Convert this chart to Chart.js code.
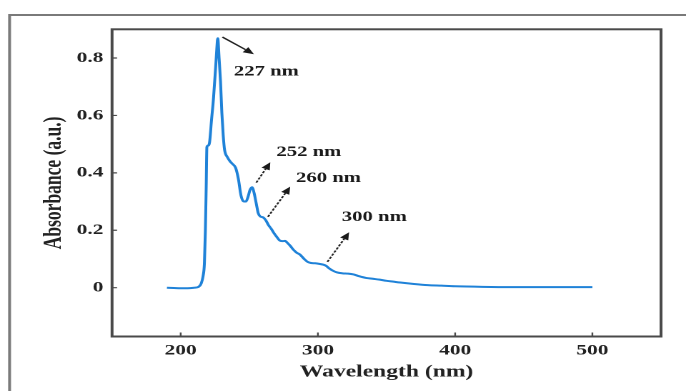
<!DOCTYPE html>
<html><head><meta charset="utf-8">
<script src="https://cdn.jsdelivr.net/npm/chart.js@4.4.1/dist/chart.umd.min.js"></script>
<style>
html,body{margin:0;padding:0;background:#fff;overflow:hidden;}
#wrap{width:480px;height:391px;transform:scaleX(1.42917);transform-origin:0 0;}
</style></head><body>
<div id="wrap"><canvas id="c" width="480" height="391" style="width:480px;height:391px"></canvas></div>
<script>
const wavelengths = [190,195,200,205,210,213,215,216.3,217.3,218,218.6,219.1,220,221,222.5,224,225.5,226.3,227,228,229,230,231,232,234,236,238,240,242,244,246,247.5,249,250.5,252,253.5,255,256.5,258,260,262,264,266,268,270,272,274,276,278,280,282,284.5,287,290,292.5,295,298,301,304,306,308,311,314,318,322,326,330,335,340,345,350,355,360,370,380,390,400,420,440,460,480,500];
const absorbance = [0.000,-0.001,-0.002,-0.002,0.000,0.003,0.015,0.04,0.085,0.2,0.35,0.49,0.495,0.505,0.585,0.665,0.77,0.83,0.869,0.80,0.72,0.61,0.53,0.48,0.455,0.44,0.43,0.418,0.38,0.32,0.30,0.30,0.315,0.34,0.35,0.33,0.295,0.26,0.248,0.245,0.235,0.218,0.205,0.19,0.177,0.165,0.162,0.163,0.155,0.145,0.133,0.122,0.115,0.10,0.09,0.086,0.085,0.083,0.08,0.076,0.068,0.059,0.053,0.05,0.049,0.046,0.04,0.034,0.031,0.028,0.024,0.021,0.018,0.013,0.009,0.007,0.005,0.003,0.002,0.002,0.002,0.002];
const xTicks = [200,300,400,500];
const yTicks = [0,0.2,0.4,0.6,0.8];
const yTickLabels = ['0','0.2','0.4','0.6','0.8'];
const peakLabels = ['227 nm','252 nm','260 nm','300 nm'];
const labelX = [262.4,293.4,307.7,341.1];
const labelY = [0.752,0.472,0.381,0.245];
const arrowFromX = [230.4,255.1,263.6,306.9];
const arrowFromY = [0.873,0.366,0.247,0.09];
const arrowToX = [253.4,265.3,279.8,322.7];
const arrowToY = [0.813,0.437,0.352,0.193];

const points = wavelengths.map((w,i)=>({x:w,y:absorbance[i]}));
const SERIF = "'Liberation Serif','Times New Roman',serif";

const deco = {
  id:'deco',
  beforeDraw(chart){
    const c = chart.ctx;
    c.save();
    c.fillStyle='#fff'; c.fillRect(0,0,chart.width,chart.height);
    c.strokeStyle='#7a7a7a'; c.lineWidth=2;
    c.beginPath(); c.moveTo(6.7,chart.height+5); c.lineTo(6.7,15); c.lineTo(chart.width+5,15); c.stroke();
    c.restore();
  },
  afterDraw(chart){
    const c = chart.ctx, a = chart.chartArea, xs = chart.scales.x, ys = chart.scales.y;
    c.save();
    c.strokeStyle='#4a4a4a'; c.lineWidth=2;
    c.strokeRect(a.left,a.top,a.right-a.left,a.bottom-a.top);
    c.lineWidth=1.2;
    c.beginPath();
    ys.ticks.forEach(t=>{const p=ys.getPixelForValue(t.value); c.moveTo(a.left,p); c.lineTo(a.left+3.5,p);});
    xs.ticks.forEach(t=>{const p=xs.getPixelForValue(t.value); c.moveTo(p,a.bottom); c.lineTo(p,a.bottom-4);});
    c.stroke();
    // annotations
    c.fillStyle='#1a1a1a'; c.strokeStyle='#222';
    c.font = 'bold 14.5px '+SERIF;
    c.textAlign='center'; c.textBaseline='middle';
    peakLabels.forEach((txt,i)=>{
      const x1=xs.getPixelForValue(arrowFromX[i]), y1=ys.getPixelForValue(arrowFromY[i]);
      const x2=xs.getPixelForValue(arrowToX[i]), y2=ys.getPixelForValue(arrowToY[i]);
      const ang=Math.atan2(y2-y1,x2-x1);
      const hl=7.5, hw=3.2;
      const bx=x2-hl*Math.cos(ang), by=y2-hl*Math.sin(ang);
      c.lineWidth=1.3;
      c.setLineDash(i===0?[]:[2.2,1.3]);
      c.beginPath(); c.moveTo(x1,y1); c.lineTo(bx,by); c.stroke();
      c.setLineDash([]);
      c.beginPath();
      c.moveTo(x2,y2);
      c.lineTo(bx+hw*Math.sin(ang), by-hw*Math.cos(ang));
      c.lineTo(bx-hw*Math.sin(ang), by+hw*Math.cos(ang));
      c.closePath(); c.fill();
      c.fillText(txt, xs.getPixelForValue(labelX[i]), ys.getPixelForValue(labelY[i]));
    });
    c.restore();
  }
};

new Chart(document.getElementById('c'), {
  type:'scatter',
  data:{datasets:[{data:points, showLine:true, borderColor:'#1f82d8', borderWidth:2, pointRadius:0, cubicInterpolationMode:'monotone', fill:false}]},
  options:{
    responsive:false, animation:false, devicePixelRatio:2,
    layout:{padding:{left:0,top:29.3,right:17.5,bottom:0}},
    plugins:{legend:{display:false}, tooltip:{enabled:false}},
    scales:{
      x:{type:'linear', position:'bottom', min:150, max:550,
        afterBuildTicks:s=>{s.ticks = xTicks.map(v=>({value:v}));},
        afterFit:s=>{s.height=54.5;},
        grid:{display:false, drawTicks:false, tickLength:0}, border:{display:false},
        ticks:{font:{family:SERIF,size:15,weight:'bold'}, color:'#222', padding:5, autoSkip:false, maxRotation:0, callback:v=>String(v)},
        title:{display:true, text:'Wavelength (nm)', color:'#222', font:{family:SERIF,size:16.5,weight:'bold'}, padding:{top:0,bottom:9}}
      },
      y:{type:'linear', position:'left', min:-0.17, max:0.9,
        afterBuildTicks:s=>{s.ticks = yTicks.map(v=>({value:v}));},
        afterFit:s=>{s.width=78.4;},
        grid:{display:false, drawTicks:false, tickLength:0}, border:{display:false},
        ticks:{font:{family:SERIF,size:15,weight:'bold'}, color:'#222', padding:6, autoSkip:false, callback:v=>{const i=yTicks.indexOf(v); return i>=0?yTickLabels[i]:'';}},
        title:{display:true, text:'Absorbance (a.u.)', color:'#222', font:{family:SERIF,size:17.5,weight:'bold'}, padding:{top:27.7,bottom:0}}
      }
    }
  },
  plugins:[deco]
});
</script>
</body></html>
